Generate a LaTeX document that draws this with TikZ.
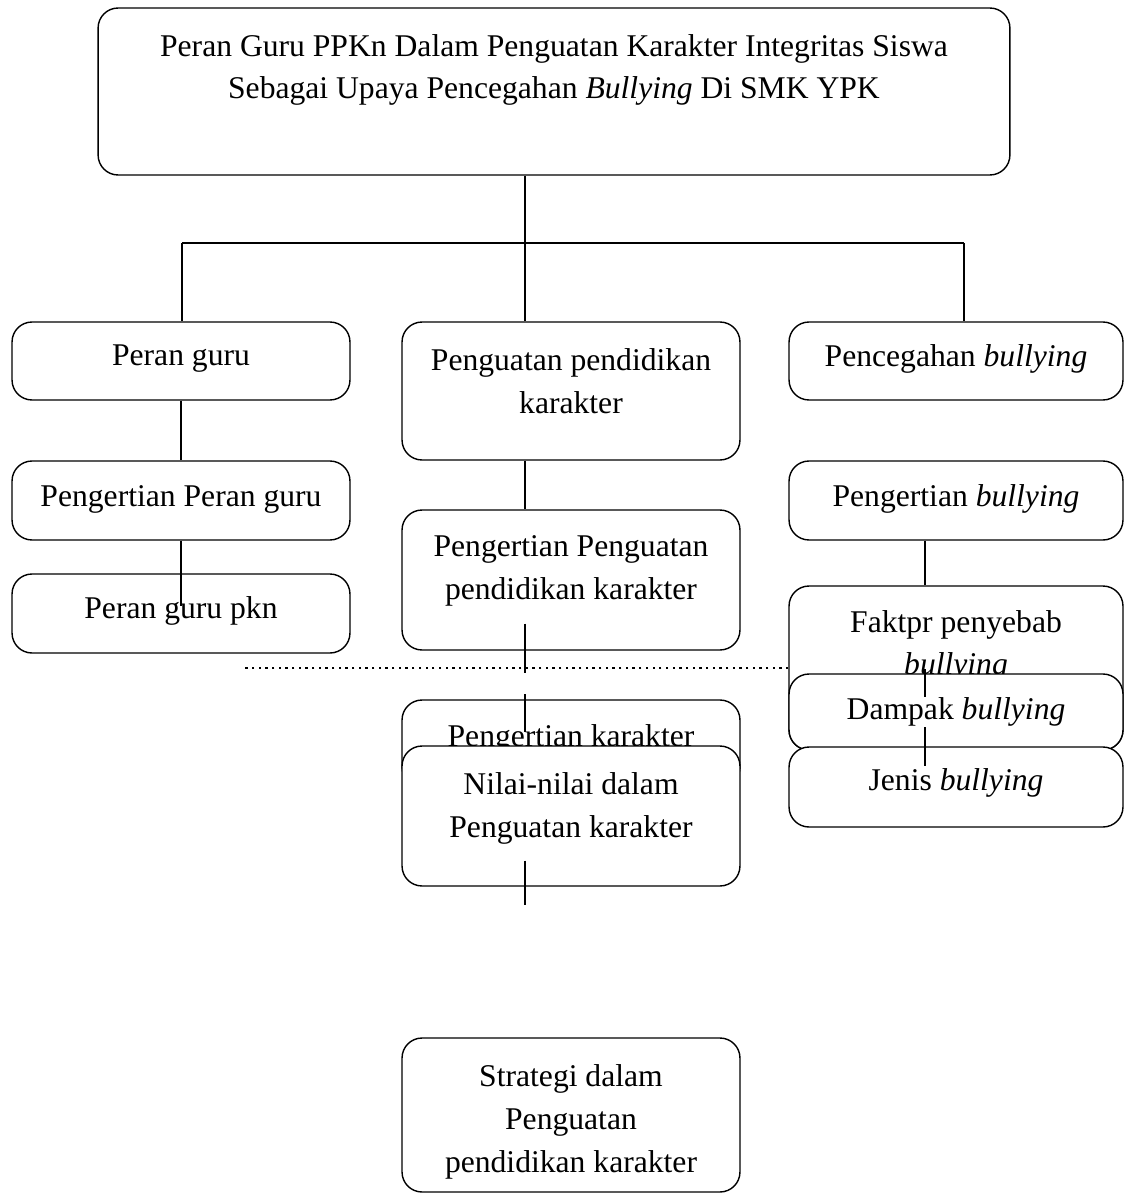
\documentclass[tikz,border=0pt]{standalone}
\usepackage{fontspec}
\setmainfont{Liberation Serif}
\usetikzlibrary{calc}

\begin{document}
\begin{tikzpicture}[
    x=0.02cm, y=-0.02cm,
    kotak/.style={
        draw=black,
        fill=white,
        line width=0.8pt,
        rounded corners=0.4cm,
        inner sep=0pt,
    },
    lebar/.style={kotak, minimum width=6.76cm},
    lebarkanan/.style={kotak, minimum width=6.68cm},
    teks/.style={
        font=\fontsize{18}{24.4}\selectfont,
        align=center,
        inner sep=0pt,
    },
    garis/.style={line width=0.8pt},
    titik/.style={line width=1.4pt, dash pattern=on 1.3pt off 2.5pt},
]
\useasboundingbox (0,0) rectangle (1124,1196);

% --- Judul ---
\node[kotak, minimum width=18.24cm, minimum height=3.34cm] (judul) at (554,91.5) {};
\node[teks] (judul-t) at (554,70) {Peran Guru PPKn Dalam Penguatan Karakter Integritas Siswa\\
    Sebagai Upaya Pencegahan \textit{Bullying} Di SMK YPK};

% --- Cabang ---
\coordinate (kiri) at (182,243);
\coordinate (tengah) at (525,243);
\coordinate (kanan) at (964,243);

% --- Kolom kiri ---
\node[lebar, minimum height=1.56cm] (peran) at (181,361) {};
\node[teks] (peran-t) at (181,359) {Peran guru};
\node[lebar, minimum height=1.58cm] (pengperan) at (181,500.5) {};
\node[teks] (pengperan-t) at (181,499) {Pengertian Peran guru};
\node[lebar, minimum height=1.58cm] (pkn) at (181,613.5) {};
\node[teks] (pkn-t) at (181,611) {Peran guru pkn};

% --- Kolom tengah ---
\node[lebar, minimum height=2.76cm] (penguatan) at (571,391) {};
\node[teks] (penguatan-t) at (571,381) {Penguatan pendidikan\\karakter};
\node[lebar, minimum height=2.8cm] (pengpenguatan) at (571,580) {};
\node[teks] (pengpenguatan-t) at (571,571) {Pengertian Penguatan\\pendidikan karakter};
\node[lebar, minimum height=1.74cm] (pengkarakter) at (571,743.5) {};
\node[teks] (pengkarakter-t) at (571,739) {Pengertian karakter};
\node[lebar, minimum height=2.8cm] (nilai) at (571,816) {};
\node[teks] (nilai-t) at (571,808) {Nilai-nilai dalam\\Penguatan karakter};
\node[lebar, minimum height=3.08cm] (strategi) at (571,1115) {};
\node[teks] (strategi-t) at (571,1122) {Strategi dalam\\Penguatan\\pendidikan karakter};

% --- Kolom kanan ---
\node[lebarkanan, minimum height=1.56cm] (pencegahan) at (956,361) {};
\node[teks] (pencegahan-t) at (956,359) {Pencegahan \textit{bullying}};
\node[lebarkanan, minimum height=1.58cm] (pengbully) at (956,500.5) {};
\node[teks] (pengbully-t) at (956,499) {Pengertian \textit{bullying}};
\node[lebarkanan, minimum height=3.28cm] (faktor) at (956,668) {};
\node[teks] (faktor-t) at (956,646) {Faktpr penyebab\\\textit{bullying}};
\node[lebarkanan, minimum height=1.52cm] (dampak) at (956,712) {};
\node[teks] (dampak-t) at (956,712) {Dampak \textit{bullying}};
\node[lebarkanan, minimum height=1.6cm] (jenis) at (956,787) {};
\node[teks] (jenis-t) at (956,783) {Jenis \textit{bullying}};

% --- Garis penghubung ---
\draw[garis] (judul.south -| tengah) -- (tengah);
\draw[garis] (kiri) -- (kanan);
\draw[garis] (kiri) -- (kiri |- peran.north);
\draw[garis] (tengah) -- (tengah |- penguatan.north);
\draw[garis] (kanan) -- (kanan |- pencegahan.north);

\draw[garis] (peran.south) -- (pengperan.north);
\draw[garis] (pengperan.south) -- ++(0,65);

\draw[garis] (tengah |- penguatan.south) -- (tengah |- pengpenguatan.north);
\draw[garis] (tengah |- pengpenguatan.south) ++(0,-27) -- ++(0,49);
\draw[garis] (tengah |- pengkarakter.north) ++(0,-5) -- ++(0,38);
\draw[garis] (tengah |- nilai.south) ++(0,-26) -- ++(0,44);

\draw[garis] ([xshift=-0.62cm]pengbully.south) -- ([xshift=-0.62cm]faktor.north);
\draw[garis] ([xshift=-0.62cm]dampak.north) ++(0,-4) -- ++(0,28);
\draw[garis] ([xshift=-0.62cm]dampak.north) ++(0,54) -- ++(0,39);

% Garis titik-titik
\draw[titik] (faktor.west) -- ++(-544,0);

\end{tikzpicture}
\end{document}
